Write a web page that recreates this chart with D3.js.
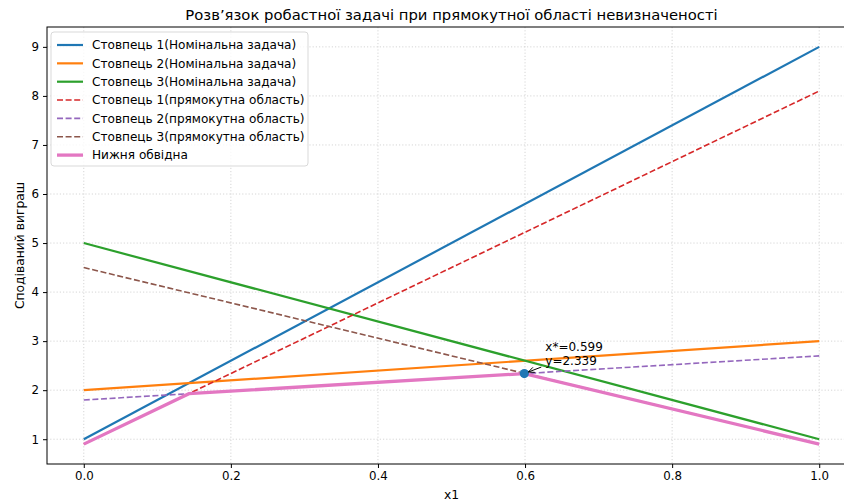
<!DOCTYPE html>
<html>
<head>
<meta charset="utf-8">
<script src="https://cdn.jsdelivr.net/npm/d3@7"></script>
<style>
  body { margin: 0; background: #fff; }
  svg { display: block; font-family: "DejaVu Sans", sans-serif; }
</style>
</head>
<body>
<div id="chart"></div>
<script>
// data
const xs = [0, 1];
const nominal1 = [1, 9];
const nominal2 = [2, 3];
const nominal3 = [5, 1];
const rect1 = [0.9, 8.1];
const rect2 = [1.8, 2.7];
const rect3 = [4.5, 0.9];
const envX = [0, 0.143, 0.599, 1];
const envY = [0.9, 1.929, 2.339, 0.9];
const optimum = { x: 0.599, y: 2.339 };

const xTicks = [0, 0.2, 0.4, 0.6, 0.8, 1.0];
const yTicks = [1, 2, 3, 4, 5, 6, 7, 8, 9];

const series = [
    { name: "Стовпець 1(Номінальна задача)", x: xs, y: nominal1, color: "#1f77b4", width: 2.2, dash: null },
    { name: "Стовпець 2(Номінальна задача)", x: xs, y: nominal2, color: "#ff7f0e", width: 2.2, dash: null },
    { name: "Стовпець 3(Номінальна задача)", x: xs, y: nominal3, color: "#2ca02c", width: 2.2, dash: null },
    { name: "Стовпець 1(прямокутна область)", x: xs, y: rect1, color: "#d62728", width: 1.6, dash: "6,2.6" },
    { name: "Стовпець 2(прямокутна область)", x: xs, y: rect2, color: "#9467bd", width: 1.6, dash: "6,2.6" },
    { name: "Стовпець 3(прямокутна область)", x: xs, y: rect3, color: "#8c564b", width: 1.6, dash: "6,2.6" },
    { name: "Нижня обвідна", x: envX, y: envY, color: "#e377c2", width: 3.3, dash: null }
];

const width = 844, height = 503;
const mLeft = 47, mTop = 27, mBottom = 464, mRight = 856;

const x = d3.scaleLinear().domain([-0.05, 1.05]).range([mLeft, mRight]);
const y = d3.scaleLinear().domain([0.495, 9.405]).range([mBottom, mTop]);

const svg = d3.select("#chart").append("svg")
    .attr("width", width)
    .attr("height", height)
    .style("overflow", "hidden");

// grid
const grid = svg.append("g")
    .attr("stroke", "#cccccc")
    .attr("stroke-width", 0.8)
    .attr("stroke-dasharray", "1.2,2");
grid.selectAll(".gx").data(xTicks).join("line")
    .attr("x1", d => x(d)).attr("x2", d => x(d))
    .attr("y1", mTop).attr("y2", mBottom);
grid.selectAll(".gy").data(yTicks).join("line")
    .attr("x1", mLeft).attr("x2", mRight)
    .attr("y1", d => y(d)).attr("y2", d => y(d));

// lines
const line = d3.line();
svg.append("g").selectAll("path")
    .data(series)
    .join("path")
    .attr("fill", "none")
    .attr("stroke", d => d.color)
    .attr("stroke-width", d => d.width)
    .attr("stroke-dasharray", d => d.dash)
    .attr("d", d => line(d.x.map((v, i) => [x(v), y(d.y[i])])));

// optimum point + annotation
svg.append("circle")
    .attr("cx", x(optimum.x))
    .attr("cy", y(optimum.y))
    .attr("r", 4.6)
    .attr("fill", "#1f77b4");

const ann = svg.append("g")
    .attr("transform", `translate(${x(optimum.x)},${y(optimum.y)})`);
ann.append("line")
    .attr("x1", 17).attr("y1", -6.5)
    .attr("x2", 4).attr("y2", -1.5)
    .attr("stroke", "#000").attr("stroke-width", 1);
ann.append("path")
    .attr("d", "M8.6,-6.2 L4,-1.5 L10.5,-1.2")
    .attr("fill", "none").attr("stroke", "#000").attr("stroke-width", 1);
ann.append("text")
    .attr("x", 21).attr("y", -23)
    .attr("font-size", 12)
    .text(`x*=${optimum.x}`);
ann.append("text")
    .attr("x", 21).attr("y", -8.5)
    .attr("font-size", 12)
    .text(`y=${optimum.y}`);

// axes
svg.append("g")
    .attr("transform", `translate(0,${mBottom})`)
    .call(d3.axisBottom(x).tickValues(xTicks).tickFormat(d3.format(".1f")).tickSize(4).tickPadding(4))
    .call(g => g.select(".domain").remove())
    .call(g => g.selectAll("text").attr("font-size", 11.8).attr("font-family", "DejaVu Sans").attr("fill", "#000"));

svg.append("g")
    .attr("transform", `translate(${mLeft},0)`)
    .call(d3.axisLeft(y).tickValues(yTicks).tickFormat(d3.format("d")).tickSize(4).tickPadding(4))
    .call(g => g.select(".domain").remove())
    .call(g => g.selectAll("text").attr("font-size", 11.8).attr("font-family", "DejaVu Sans").attr("fill", "#000"));

// spines
svg.append("rect")
    .attr("x", mLeft).attr("y", mTop)
    .attr("width", mRight - mLeft).attr("height", mBottom - mTop)
    .attr("fill", "none").attr("stroke", "#000").attr("stroke-width", 1);

// labels
svg.append("text")
    .attr("x", (mLeft + mRight) / 2).attr("y", 20)
    .attr("text-anchor", "middle")
    .attr("font-size", 14.8)
    .text("Розв’язок робастної задачі при прямокутної області невизначеності");

svg.append("text")
    .attr("x", (mLeft + mRight) / 2).attr("y", 499)
    .attr("text-anchor", "middle")
    .attr("font-size", 12.3)
    .text("x1");

svg.append("text")
    .attr("transform", `translate(24,${(mTop + mBottom) / 2}) rotate(-90)`)
    .attr("text-anchor", "middle")
    .attr("font-size", 12.3)
    .text("Сподіваний виграш");

// legend
const lg = svg.append("g").attr("transform", "translate(51,32)");
lg.append("rect")
    .attr("width", 257).attr("height", 134)
    .attr("rx", 3)
    .attr("fill", "#fff").attr("fill-opacity", 0.8)
    .attr("stroke", "#d9d9d9").attr("stroke-width", 1);
const rows = lg.selectAll(".row").data(series).join("g")
    .attr("transform", (d, i) => `translate(0,${13 + i * 18.35})`);
rows.append("line")
    .attr("x1", 6).attr("x2", 32)
    .attr("stroke", d => d.color)
    .attr("stroke-width", d => d.width)
    .attr("stroke-dasharray", d => d.dash);
rows.append("text")
    .attr("x", 41).attr("dy", "0.35em")
    .attr("font-size", 12.1)
    .text(d => d.name);
</script>
</body>
</html>
